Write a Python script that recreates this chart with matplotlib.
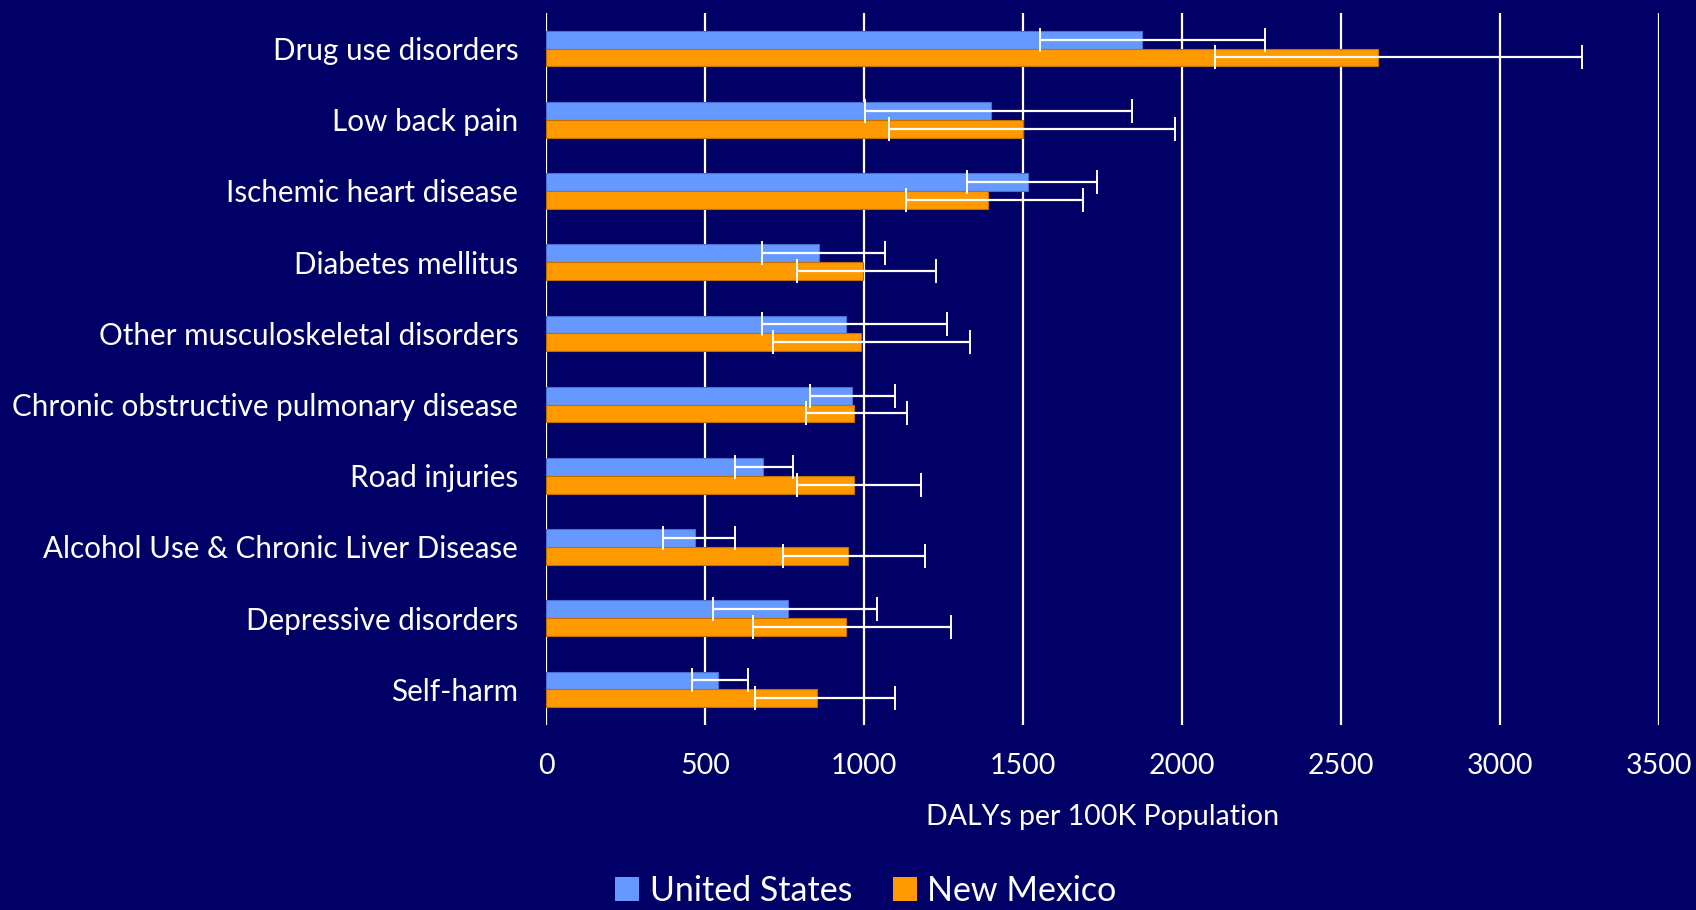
import matplotlib
matplotlib.use("Agg")
import matplotlib.pyplot as plt
import numpy as np
from matplotlib.patches import Patch

categories = ["Drug use disorders", "Low back pain", "Ischemic heart disease",
              "Diabetes mellitus", "Other musculoskeletal disorders",
              "Chronic obstructive pulmonary disease", "Road injuries",
              "Alcohol Use & Chronic Liver Disease", "Depressive disorders", "Self-harm"]

us_vals = [1875, 1400, 1517, 860, 942, 963, 683, 470, 762, 542]
us_low = [1552, 1003, 1325, 678, 680, 830, 594, 369, 526, 460]
us_high = [2260, 1842, 1732, 1066, 1260, 1099, 776, 594, 1040, 636]

nm_vals = [2616, 1501, 1389, 998, 991, 970, 970, 951, 942, 853]
nm_low = [2104, 1078, 1131, 790, 713, 818, 788, 746, 650, 657]
nm_high = [3259, 1978, 1688, 1227, 1332, 1136, 1178, 1192, 1274, 1096]

xticks = [0, 500, 1000, 1500, 2000, 2500, 3000, 3500]

BG = "#000066"
US_C = "#6699FF"
NM_C = "#FF9900"
FONT = ["Lato", "DejaVu Sans"]
plt.rcParams['font.family'] = FONT

fig = plt.figure(figsize=(16.96, 9.10), dpi=100, facecolor=BG)
ax = fig.add_axes([546/1696, 1-725/910, (1659-546)/1696, (725-13)/910])
ax.set_facecolor(BG)

y = np.arange(len(categories))
h = 0.25
us = np.array(us_vals); nm = np.array(nm_vals)
us_err = [us - np.array(us_low), np.array(us_high) - us]
nm_err = [nm - np.array(nm_low), np.array(nm_high) - nm]

ax.barh(y - h/2, us, height=h, color=US_C, edgecolor="#4A6FD0", linewidth=0.8, zorder=3)
ax.barh(y + h/2, nm, height=h, color=NM_C, edgecolor="#C07000", linewidth=0.8, zorder=3)
ax.errorbar(us, y - h/2, xerr=us_err, fmt="none", ecolor="white", elinewidth=1.6,
            capsize=8.5, capthick=1.4, zorder=4)
ax.errorbar(nm, y + h/2, xerr=nm_err, fmt="none", ecolor="white", elinewidth=1.6,
            capsize=8.5, capthick=1.4, zorder=4)

ax.set_xlim(0, 3500)
ax.set_ylim(len(categories) - 0.5, -0.5)
ax.set_xticks(xticks)
ax.set_xticklabels([str(t) for t in xticks], color="white", fontsize=20.5)
ax.set_yticks(y)
ax.set_yticklabels(categories, color="white", fontsize=21.3)
ax.tick_params(axis="both", length=0)
ax.tick_params(axis="x", pad=20)
ax.tick_params(axis="y", pad=20)
ax.grid(axis="x", color="white", linewidth=1.6, zorder=0)
ax.set_axisbelow(True)
for s in ax.spines.values():
    s.set_visible(False)

ax.set_xlabel("DALYs per 100K Population", color="white", fontsize=20.5, labelpad=18)

handles = [Patch(facecolor=US_C, label="United States"), Patch(facecolor=NM_C, label="New Mexico")]
leg = fig.legend(handles=handles, loc="center", bbox_to_anchor=(0.5105, 0.021), ncol=2,
                 frameon=False, fontsize=24.5, labelcolor="white", handlelength=0.7,
                 handleheight=0.7, handletextpad=0.3, columnspacing=1.2)

fig.savefig("out.png", dpi=100, facecolor=BG)
